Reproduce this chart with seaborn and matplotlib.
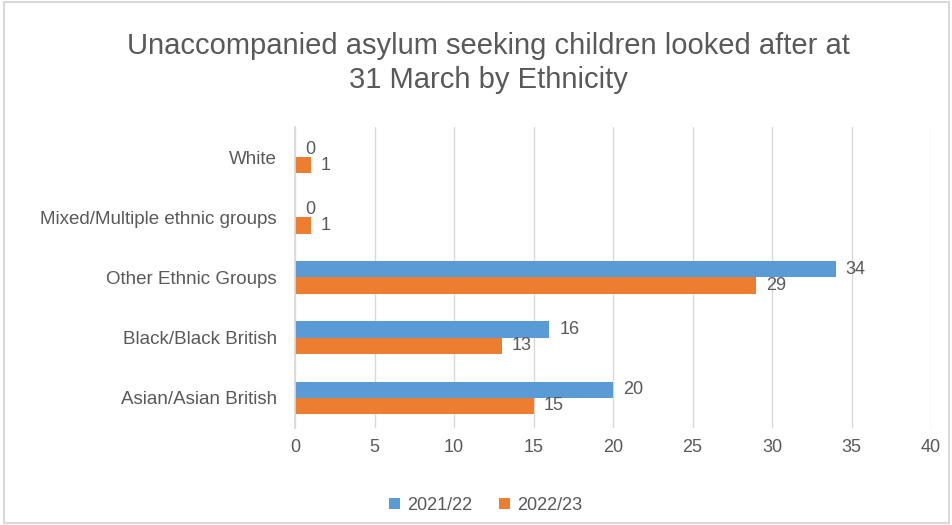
import matplotlib
matplotlib.use('Agg')
import matplotlib.pyplot as plt
import seaborn as sns
import pandas as pd
from matplotlib.patches import Rectangle

# Data
categories = ['White', 'Mixed/Multiple ethnic groups', 'Other Ethnic Groups',
              'Black/Black British', 'Asian/Asian British']
values_2122 = [0, 0, 34, 16, 20]
values_2223 = [1, 1, 29, 13, 15]
years = ['2021/22', '2022/23']
x_ticks = [0, 5, 10, 15, 20, 25, 30, 35, 40]

df = pd.DataFrame({
    'Ethnicity': categories * 2,
    'Year': [years[0]] * len(categories) + [years[1]] * len(categories),
    'Count': values_2122 + values_2223,
})

sns.set_theme(style='white')
plt.rcParams['font.family'] = ['Liberation Sans', 'DejaVu Sans']
text_color = '#595959'
grid_color = '#D9D9D9'

fig = plt.figure(figsize=(9.53, 5.25), dpi=100)
ax = fig.add_axes([0.3096, 0.185, 0.6674, 0.573])

sns.barplot(data=df, y='Ethnicity', x='Count', hue='Year', order=categories,
            hue_order=years, palette=['#5B9BD5', '#ED7D31'], width=0.54,
            orient='y', ax=ax, saturation=1, legend=True, linewidth=0)

for container in ax.containers:
    ax.bar_label(container, labels=[f"{int(v)}" for v in container.datavalues],
                 padding=7, fontsize=13, color=text_color)

ax.set_xlim(0, 40)
ax.set_xticks(x_ticks)
ax.set_xticklabels([str(t) for t in x_ticks], fontsize=13, color=text_color)
ax.tick_params(axis='y', labelsize=13.5, labelcolor=text_color, length=0, pad=13)
ax.tick_params(axis='x', length=0, pad=8)
ax.set_xlabel('')
ax.set_ylabel('')
ax.xaxis.grid(True, color=grid_color, linewidth=1)
ax.set_axisbelow(True)
for side in ['top', 'right', 'bottom']:
    ax.spines[side].set_visible(False)
ax.spines['left'].set_color(grid_color)

ax.legend(loc='lower center', bbox_to_anchor=(0.30, -0.34), ncol=2, frameon=False,
          fontsize=13, labelcolor=text_color, handlelength=0.6, handleheight=0.6,
          columnspacing=1.5, handletextpad=0.4)

fig.text(0.513, 0.88, 'Unaccompanied asylum seeking children looked after at\n31 March by Ethnicity',
         ha='center', va='center', fontsize=21, color=text_color, linespacing=1.3)

fig.patches.append(Rectangle((0.004, 0.004), 0.992, 0.992, transform=fig.transFigure,
                             fill=False, edgecolor=grid_color, linewidth=1.5))

fig.savefig('out.png', dpi=100)
